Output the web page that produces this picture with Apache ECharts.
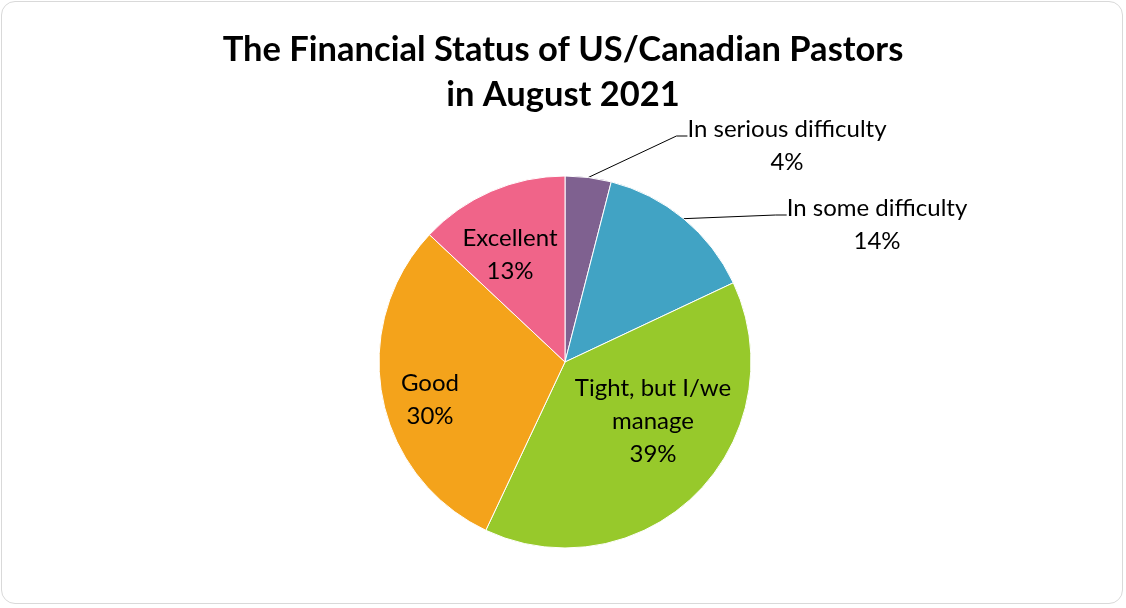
<!DOCTYPE html>
<html><head><meta charset="utf-8">
<script src="https://cdn.jsdelivr.net/npm/echarts@6/dist/echarts.min.js"></script>
<style>
html,body{margin:0;padding:0;background:#fff;}
#frame{position:absolute;left:1px;top:1px;width:1122px;height:603px;border:1px solid #d9d9d9;border-radius:14px;box-sizing:border-box;overflow:hidden;}
#chart{position:absolute;left:0;top:0;width:1126px;height:608px;}
</style></head>
<body>
<div id="frame"></div>
<div id="chart"></div>
<script>
const titleText = 'The Financial Status of US/Canadian Pastors\nin August 2021';
const categories = ['In serious difficulty', 'In some difficulty', 'Tight, but I/we\nmanage', 'Good', 'Excellent'];
const values = [4, 14, 39, 30, 13];
const colors = ['#7f6190', '#41a3c4', '#97c92b', '#f4a31b', '#f06489'];
// label anchor positions (style only)
const labelPos = [[787, 146], [877, 225], [653, 421], [430, 400], [510, 255]];
const FONT = 'Lato, "Open Sans", sans-serif';

const chart = echarts.init(document.getElementById('chart'), null, {renderer: 'canvas'});
chart.setOption({
  animation: false,
  title: {
    text: titleText,
    left: 'center',
    top: 22,
    textStyle: {fontFamily: FONT, fontWeight: 'bold', fontSize: 34.5, lineHeight: 45, color: '#000'}
  },
  series: [{
    type: 'pie',
    center: [565, 362],
    radius: 186,
    startAngle: 90,
    clockwise: true,
    data: categories.map((c, i) => ({
      name: c, value: values[i],
      itemStyle: {color: colors[i]},
      label: {position: i < 2 ? 'outside' : 'inside'},
      labelLine: {show: i < 2}
    })),
    itemStyle: {borderColor: '#fff', borderWidth: 1},
    label: {
      formatter: p => p.name + '\n' + Math.round(p.percent) + '%',
      fontFamily: FONT, fontSize: 24, lineHeight: 33, color: '#000',
      align: 'center', verticalAlign: 'middle'
    },
    labelLine: {lineStyle: {color: '#000', width: 1}, length: 20, length2: 20},
    labelLayout: function (params) {
      const i = params.dataIndex;
      const pos = labelPos[i];
      const res = {x: pos[0], y: pos[1], align: 'center', verticalAlign: 'middle'};
      if (i < 2 && params.labelLinePoints) {
        const start = params.labelLinePoints[0];
        const w = params.labelRect.width, h = params.labelRect.height;
        const left = pos[0] - w / 2;
        const ly = pos[1] - h / 2 + 23;
        res.labelLinePoints = [start, [left - 11, ly], [left, ly]];
      }
      return res;
    }
  }]
});
</script>
</body></html>
